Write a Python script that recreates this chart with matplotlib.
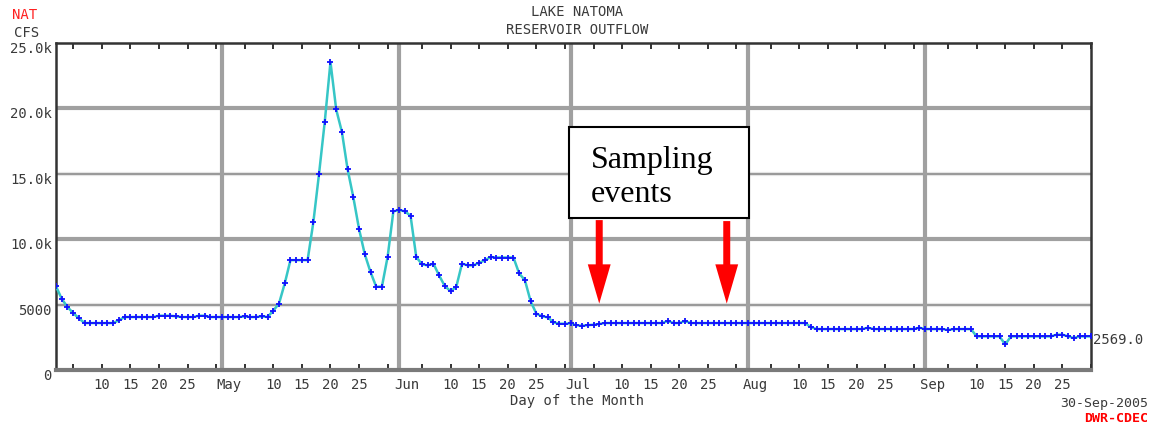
import matplotlib
matplotlib.use('Agg')
import matplotlib.pyplot as plt
from matplotlib.patches import Rectangle, FancyArrow
import numpy as np

# Lake Natoma reservoir outflow (cfs), daily, Apr 2 - Sep 30 2005
apr_flow = [6400, 5440, 4820, 4360, 3950, 3590, 3590, 3590, 3590, 3590,
            3590, 3800, 4050, 4050, 4050, 4050, 4050, 4050, 4150, 4150,
            4150, 4100, 4050, 4050, 4050, 4150, 4150, 4050, 4050]
may_flow = [4050, 4050, 4050, 4050, 4100, 4050, 4050, 4100, 4050, 4540,
            5080, 6615, 8400, 8400, 8400, 8400, 11280, 15000, 18980, 23540,
            19920, 18200, 15330, 13200, 10770, 8850, 7490, 6360, 6380, 8670,
            12130]
jun_flow = [12230, 12130, 11800, 8640, 8080, 8000, 8130, 7230, 6410, 6030,
            6360, 8130, 8000, 8000, 8200, 8380, 8640, 8600, 8600, 8600,
            8600, 7380, 6870, 5260, 4310, 4100, 4030, 3640, 3540, 3540]
jul_flow = [3560, 3420, 3380, 3430, 3460, 3520, 3590, 3590, 3590, 3590,
            3590, 3590, 3590, 3590, 3590, 3590, 3590, 3740, 3590, 3590,
            3740, 3590, 3590, 3590, 3590, 3590, 3590, 3590, 3590, 3590,
            3590]
aug_flow = [3590, 3590, 3590, 3590, 3590, 3590, 3590, 3590, 3590, 3590,
            3590, 3280, 3130, 3130, 3130, 3130, 3130, 3130, 3130, 3130,
            3130, 3230, 3130, 3130, 3130, 3130, 3130, 3130, 3130, 3130,
            3230]
sep_flow = [3130, 3130, 3130, 3130, 3060, 3130, 3130, 3130, 3130, 2570,
            2570, 2570, 2570, 2570, 1950, 2570, 2570, 2570, 2570, 2570,
            2570, 2570, 2570, 2700, 2700, 2570, 2440, 2570, 2570, 2569]

month_names = ['Apr', 'May', 'Jun', 'Jul', 'Aug', 'Sep']
month_days = [30, 31, 30, 31, 31, 30]
day_ticks = [5, 10, 15, 20, 25, 30]
day_labels = ['', '10', '15', '20', '25', '']
ytick_vals = [0, 5000, 10000, 15000, 20000, 25000]
ytick_labels = ['0', '5000', '10.0k', '15.0k', '20.0k', '25.0k']
last_label = '2569.0'

flow = np.array(apr_flow + may_flow + jun_flow + jul_flow + aug_flow + sep_flow)
days = np.arange(1, len(flow) + 1)   # day 0 = Apr 1
month_start = np.concatenate([[0], np.cumsum(month_days)[:-1]])

mono = 'DejaVu Sans Mono'
txt = '#3a3a3a'

fig = plt.figure(figsize=(11.52, 4.29), dpi=100)
ax = fig.add_axes([56/1152, 1 - 370/429, (1091 - 56)/1152, (370 - 43)/429])

# grid
for v in [5000, 15000]:
    ax.axhline(v, color='#e4e4e4', lw=3, zorder=1)
    ax.axhline(v, color='#8c8c8c', lw=1.2, zorder=1)
for v in [10000, 20000]:
    ax.axhline(v, color='#a0a0a0', lw=3, zorder=1)
for ms in month_start[1:]:
    ax.axvline(ms, color='#a0a0a0', lw=3, zorder=1)

ax.plot(days, flow, color='#36c6c6', lw=1.8, zorder=3)
ax.plot(days, flow, ls='none', marker='+', ms=4.5, mew=1.3, color='#1010ff', zorder=4)

ax.set_xlim(1, 182)
ax.set_ylim(0, 25000)

# ticks
tick_pos = []
tick_lab = []
for ms, nd in zip(month_start, month_days):
    for d, lab in zip(day_ticks, day_labels):
        if d <= nd:
            tick_pos.append(ms + d - 1)
            tick_lab.append(lab)
ax.set_xticks(tick_pos)
ax.set_yticks([])
ax.tick_params(axis='x', direction='in', top=True, bottom=True, length=4,
               width=1.3, color='#222222', labelbottom=False)

for p, lab in zip(tick_pos, tick_lab):
    if lab:
        ax.annotate(lab, xy=(p, 0), xycoords=('data', 'axes fraction'),
                    xytext=(0, -15), textcoords='offset pixels', ha='center',
                    va='center', fontsize=10, family=mono, color=txt)
for ms, name in zip(month_start[1:], month_names[1:]):
    ax.annotate(name, xy=(ms, 0), xycoords=('data', 'axes fraction'),
                xytext=(-5, -15), textcoords='offset pixels', ha='left',
                va='center', fontsize=10, family=mono, color=txt)
for v, lab in zip(ytick_vals, ytick_labels):
    ax.annotate(lab, xy=(0, v), xycoords=('axes fraction', 'data'),
                xytext=(-4, -6), textcoords='offset pixels', ha='right',
                va='center', fontsize=10, family=mono, color=txt)
ax.annotate(last_label, xy=(1, flow[-1]), xycoords=('axes fraction', 'data'),
            xytext=(2, -4), textcoords='offset pixels', ha='left',
            va='center', fontsize=10, family=mono, color=txt)

for side in ['left', 'right', 'top']:
    ax.spines[side].set_color('#333333')
    ax.spines[side].set_linewidth(1.8)
ax.spines['bottom'].set_color('#7a7a7a')
ax.spines['bottom'].set_linewidth(3)

# annotation box and arrows
ax.add_patch(Rectangle((90.7, 11615), 31.5, 7000, fill=True, facecolor='white',
                       edgecolor='black', lw=1.5, zorder=6))
ax.text(94.5, 15460, 'Sampling', family='Liberation Serif', fontsize=23,
        va='baseline', ha='left', zorder=7)
ax.text(94.5, 12846, 'events', family='Liberation Serif', fontsize=23,
        va='baseline', ha='left', zorder=7)
for x0, y0 in [(96.0, 11460), (118.3, 11385)]:
    ax.add_patch(FancyArrow(x0, y0, 0, 5077 - y0, width=1.22, head_width=4.0,
                            head_length=3000, length_includes_head=True,
                            color='#ff0000', lw=0, zorder=7))

# figure texts
fig.text(577/1152, 1 - 12/429, 'LAKE NATOMA', ha='center', va='center',
         fontsize=10, family=mono, color=txt)
fig.text(577/1152, 1 - 30/429, 'RESERVOIR OUTFLOW', ha='center', va='center',
         fontsize=10, family=mono, color=txt)
fig.text(25/1152, 1 - 15/429, 'NAT', ha='center', va='center',
         fontsize=10, family=mono, color='#ff2020')
fig.text(27/1152, 1 - 33/429, 'CFS', ha='center', va='center',
         fontsize=10, family=mono, color=txt)
fig.text(577/1152, 1 - 401/429, 'Day of the Month', ha='center', va='center',
         fontsize=10, family=mono, color=txt)
fig.text(1148/1152, 1 - 404/429, '30-Sep-2005', ha='right', va='center',
         fontsize=9.5, family=mono, color=txt)
fig.text(1148/1152, 1 - 419/429, 'DWR-CDEC', ha='right', va='center',
         fontsize=9.5, family=mono, color='#ff0000', weight='bold')

fig.savefig('out.png', dpi=100)
